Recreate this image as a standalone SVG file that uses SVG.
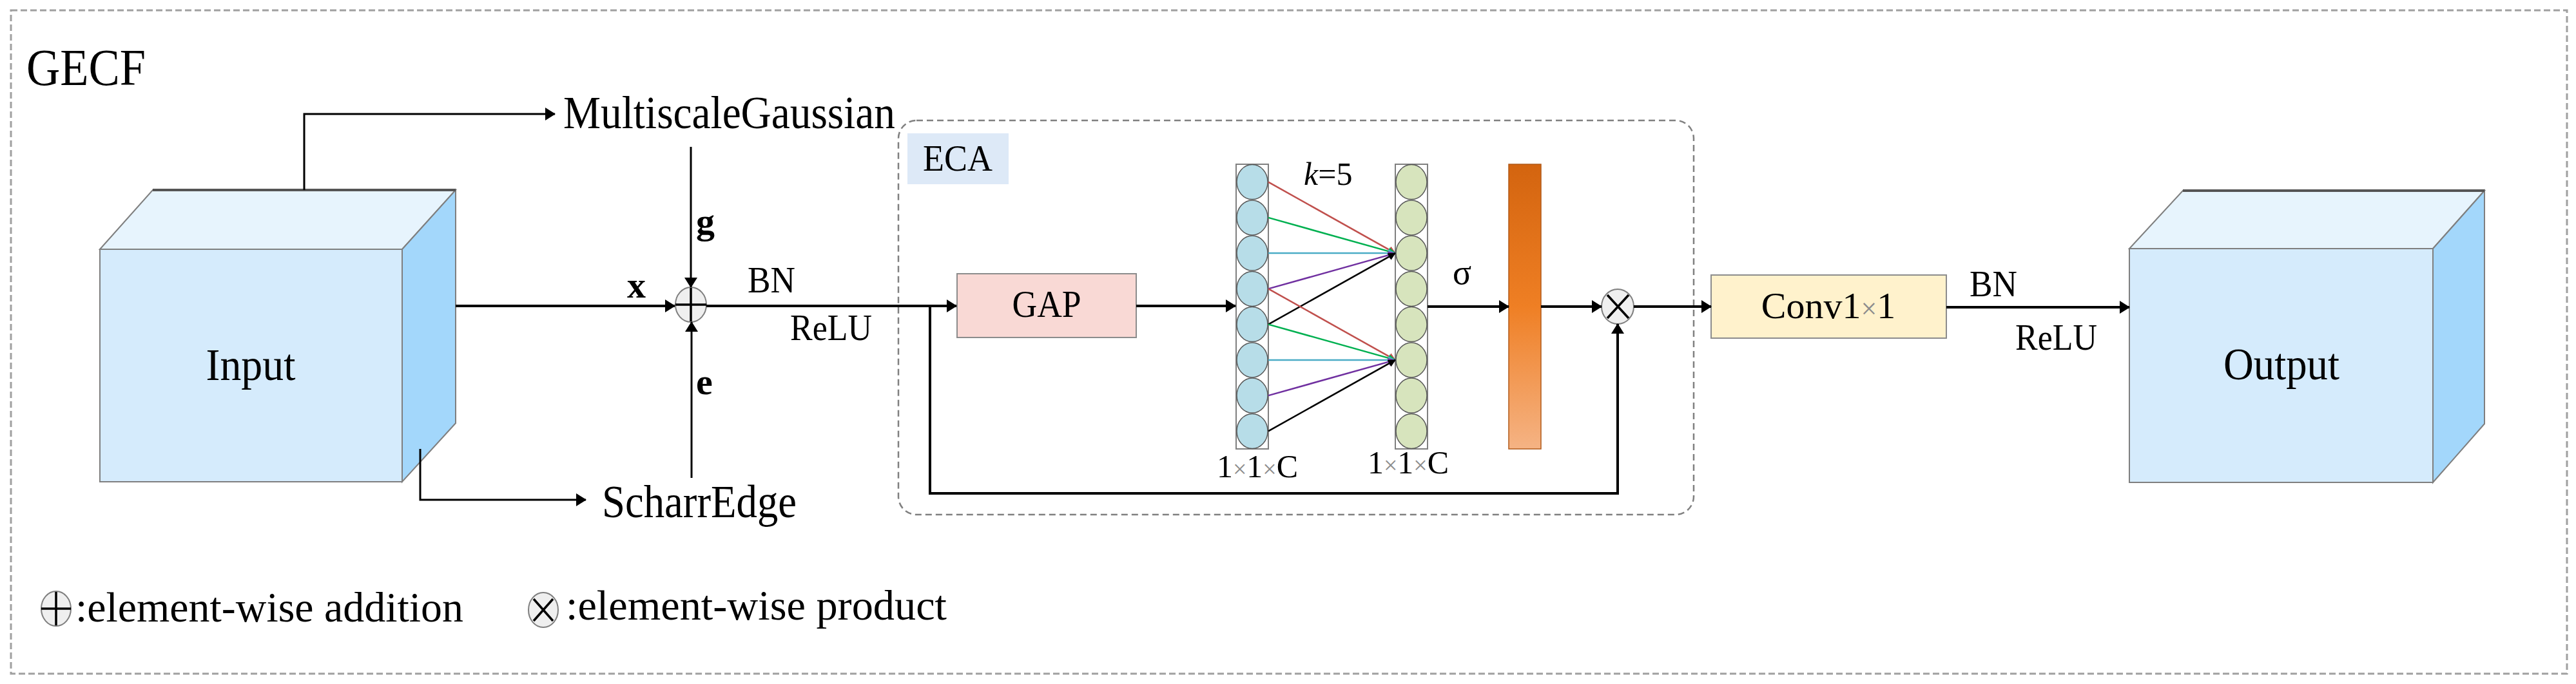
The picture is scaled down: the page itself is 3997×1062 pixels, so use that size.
<svg xmlns="http://www.w3.org/2000/svg" width="3997" height="1062" viewBox="0 0 3997 1062">
<style>
text{font-family:"Liberation Serif","Times New Roman",serif;fill:#000}
.ln{fill:none;stroke:#000;stroke-width:4}
.thin{fill:none;stroke:#000;stroke-width:3}
.front{fill:#d5ebfc;stroke:#7f7f7f;stroke-width:2}
.top{fill:#e7f4fd;stroke:#7f7f7f;stroke-width:2}
.side{fill:#a3d7fb;stroke:#7f7f7f;stroke-width:2}
.op{fill:#efefef;stroke:#7f7f7f;stroke-width:2}
.opl{stroke:#000;stroke-width:3.5;fill:none}
.col{fill:#fff;stroke:#7f7f7f;stroke-width:2}
.cb{fill:#b7dde8;stroke:#595959;stroke-width:1.5}
.cg{fill:#d7e4bd;stroke:#595959;stroke-width:1.5}
.gx{fill:#8c8c8c}
.k{stroke-width:2.5;fill:none}
</style>
<defs>
<marker id="ah" markerUnits="userSpaceOnUse" markerWidth="16" markerHeight="20" refX="15" refY="10" orient="auto"><path d="M0,0 L16,10 L0,20 z" fill="#000"/></marker>
<marker id="mr" markerUnits="userSpaceOnUse" markerWidth="12" markerHeight="12" refX="11" refY="6" orient="auto"><path d="M0,0 L12,6 L0,12 z" fill="#c0504d"/></marker>
<marker id="mg" markerUnits="userSpaceOnUse" markerWidth="12" markerHeight="12" refX="11" refY="6" orient="auto"><path d="M0,0 L12,6 L0,12 z" fill="#00b050"/></marker>
<marker id="mt" markerUnits="userSpaceOnUse" markerWidth="12" markerHeight="12" refX="11" refY="6" orient="auto"><path d="M0,0 L12,6 L0,12 z" fill="#4bacc6"/></marker>
<marker id="mp" markerUnits="userSpaceOnUse" markerWidth="12" markerHeight="12" refX="11" refY="6" orient="auto"><path d="M0,0 L12,6 L0,12 z" fill="#7030a0"/></marker>
<marker id="mk" markerUnits="userSpaceOnUse" markerWidth="12" markerHeight="12" refX="11" refY="6" orient="auto"><path d="M0,0 L12,6 L0,12 z" fill="#000"/></marker>
<linearGradient id="og" x1="0" y1="0" x2="0" y2="1">
<stop offset="0" stop-color="#d3640f"/>
<stop offset="0.5" stop-color="#ef7f24"/>
<stop offset="1" stop-color="#f5b384"/>
</linearGradient>
</defs>

<g id="frame">
<rect x="17" y="16" width="3966" height="1030" fill="#fff" stroke="#a0a0a0" stroke-width="3" stroke-dasharray="10 5"/>
<text x="41" y="132" font-size="80" textLength="185" lengthAdjust="spacingAndGlyphs">GECF</text>
</g>

<g id="eca-box">
<rect x="1394" y="187" width="1234" height="612" rx="28" fill="none" stroke="#808080" stroke-width="2.5" stroke-dasharray="10 6"/>
<rect x="1408" y="207" width="157" height="79" fill="#dde9f7"/>
<text x="1432" y="265" font-size="58" textLength="108" lengthAdjust="spacingAndGlyphs">ECA</text>
</g>

<g id="input">
<polygon class="top" points="155,387 237,295 707,295 624,387"/>
<polygon class="side" points="624,387 707,295 707,657 624,748"/>
<rect class="front" x="155" y="387" width="469" height="361"/>
<line x1="237" y1="295" x2="707" y2="295" stroke="#555" stroke-width="4"/>
<text x="389" y="590" font-size="70" text-anchor="middle" textLength="139" lengthAdjust="spacingAndGlyphs">Input</text>
</g>

<g id="output">
<polygon class="top" points="3304,386 3387,296 3855,296 3775,386"/>
<polygon class="side" points="3775,386 3855,296 3855,658 3775,749"/>
<rect class="front" x="3304" y="386" width="471" height="363"/>
<line x1="3387" y1="296" x2="3855" y2="296" stroke="#555" stroke-width="4"/>
<text x="3540" y="589" font-size="70" text-anchor="middle" textLength="180" lengthAdjust="spacingAndGlyphs">Output</text>
</g>

<g id="multiscale-gaussian">
<text x="874" y="199" font-size="72" textLength="515" lengthAdjust="spacingAndGlyphs">MultiscaleGaussian</text>
</g>

<g id="scharr-edge">
<text x="934" y="803" font-size="72" textLength="302" lengthAdjust="spacingAndGlyphs">ScharrEdge</text>
</g>

<g id="add">
<ellipse class="op" cx="1072" cy="473" rx="24" ry="27"/>
<path class="opl" d="M1072,447 V499 M1048,473 H1096"/>
</g>

<g id="gap">
<rect x="1485" y="425" width="278" height="99" fill="#f9d9d5" stroke="#8c8c8c" stroke-width="2"/>
<text x="1624" y="492" font-size="60" text-anchor="middle" textLength="107" lengthAdjust="spacingAndGlyphs">GAP</text>
</g>

<g id="col-in">
<rect class="col" x="1918" y="255" width="50" height="442"/>
<ellipse class="cb" cx="1943" cy="282.6" rx="24" ry="27"/>
<ellipse class="cb" cx="1943" cy="337.9" rx="24" ry="27"/>
<ellipse class="cb" cx="1943" cy="393.1" rx="24" ry="27"/>
<ellipse class="cb" cx="1943" cy="448.4" rx="24" ry="27"/>
<ellipse class="cb" cx="1943" cy="503.6" rx="24" ry="27"/>
<ellipse class="cb" cx="1943" cy="558.9" rx="24" ry="27"/>
<ellipse class="cb" cx="1943" cy="614.1" rx="24" ry="27"/>
<ellipse class="cb" cx="1943" cy="669.4" rx="24" ry="27"/>
<text x="1951" y="741" font-size="50" text-anchor="middle">1<tspan class="gx" font-size="38">×</tspan>1<tspan class="gx" font-size="38">×</tspan>C</text>
</g>

<g id="col-out">
<rect class="col" x="2165" y="255" width="50" height="442"/>
<ellipse class="cg" cx="2190" cy="282.6" rx="24" ry="27"/>
<ellipse class="cg" cx="2190" cy="337.9" rx="24" ry="27"/>
<ellipse class="cg" cx="2190" cy="393.1" rx="24" ry="27"/>
<ellipse class="cg" cx="2190" cy="448.4" rx="24" ry="27"/>
<ellipse class="cg" cx="2190" cy="503.6" rx="24" ry="27"/>
<ellipse class="cg" cx="2190" cy="558.9" rx="24" ry="27"/>
<ellipse class="cg" cx="2190" cy="614.1" rx="24" ry="27"/>
<ellipse class="cg" cx="2190" cy="669.4" rx="24" ry="27"/>
<text x="2185" y="735" font-size="50" text-anchor="middle">1<tspan class="gx" font-size="38">×</tspan>1<tspan class="gx" font-size="38">×</tspan>C</text>
</g>

<g id="sigmoid-bar">
<rect x="2341" y="255" width="50" height="442" fill="url(#og)" stroke="#b05a1a" stroke-width="1.5"/>
</g>

<g id="mul">
<ellipse class="op" cx="2510" cy="476" rx="25" ry="27"/>
<path class="opl" d="M2494,458 L2527,494 M2527,458 L2494,494"/>
</g>

<g id="conv">
<rect x="2655" y="427" width="365" height="98" fill="#fff2cc" stroke="#8c8c8c" stroke-width="2"/>
<text x="2837" y="494" font-size="58" text-anchor="middle">Conv1<tspan class="gx" font-size="44">×</tspan>1</text>
</g>

<g id="connectors">
<path class="thin" d="M472,295 V177 H861" marker-end="url(#ah)"/>
<path class="thin" d="M652,697 V776 H909" marker-end="url(#ah)"/>
<path class="ln" d="M707,475 H1047" marker-end="url(#ah)"/>
<path class="thin" d="M1072,228 V446" marker-end="url(#ah)"/>
<path class="thin" d="M1073,742 V500" marker-end="url(#ah)"/>
<path class="ln" d="M1096,475 H1484" marker-end="url(#ah)"/>
<path class="ln" d="M1443,475 V766 H2510 V503" marker-end="url(#ah)"/>
<path class="ln" d="M1763,475 H1917" marker-end="url(#ah)"/>
<path class="ln" d="M2215,476 H2341" marker-end="url(#ah)"/>
<path class="ln" d="M2391,476 H2485" marker-end="url(#ah)"/>
<path class="ln" d="M2535,476 H2655" marker-end="url(#ah)"/>
<path class="ln" d="M3020,477 H3304" marker-end="url(#ah)"/>
<path class="k" stroke="#c0504d" d="M1968,282.6 L2165,393.1" marker-end="url(#mr)"/>
<path class="k" stroke="#00b050" d="M1968,337.9 L2165,393.1" marker-end="url(#mg)"/>
<path class="k" stroke="#4bacc6" d="M1968,393.1 L2165,393.1" marker-end="url(#mt)"/>
<path class="k" stroke="#7030a0" d="M1968,448.4 L2165,393.1" marker-end="url(#mp)"/>
<path class="k" stroke="#000" d="M1968,503.6 L2165,393.1" marker-end="url(#mk)"/>
<path class="k" stroke="#c0504d" d="M1968,448.4 L2165,558.9" marker-end="url(#mr)"/>
<path class="k" stroke="#00b050" d="M1968,503.6 L2165,558.9" marker-end="url(#mg)"/>
<path class="k" stroke="#4bacc6" d="M1968,558.9 L2165,558.9" marker-end="url(#mt)"/>
<path class="k" stroke="#7030a0" d="M1968,614.1 L2165,558.9" marker-end="url(#mp)"/>
<path class="k" stroke="#000" d="M1968,669.4 L2165,558.9" marker-end="url(#mk)"/>
</g>

<g id="labels">
<text x="973" y="462" font-size="58" font-weight="bold">x</text>
<text x="1080" y="363" font-size="58" font-weight="bold">g</text>
<text x="1080" y="612" font-size="58" font-weight="bold">e</text>
<text x="1160" y="454" font-size="58" textLength="74" lengthAdjust="spacingAndGlyphs">BN</text>
<text x="1226" y="528" font-size="58" textLength="127" lengthAdjust="spacingAndGlyphs">ReLU</text>
<text x="2023" y="287" font-size="50"><tspan font-style="italic">k</tspan>=5</text>
<text x="2254" y="441" font-size="54">σ</text>
<text x="3056" y="460" font-size="58" textLength="74" lengthAdjust="spacingAndGlyphs">BN</text>
<text x="3127" y="543" font-size="58" textLength="127" lengthAdjust="spacingAndGlyphs">ReLU</text>
</g>

<g id="legend">
<ellipse class="op" cx="87" cy="945" rx="23" ry="27"/>
<path class="opl" d="M87,919 V971 M64,945 H110"/>
<text x="117" y="965" font-size="66" textLength="602" lengthAdjust="spacingAndGlyphs">:element-wise addition</text>
<ellipse class="op" cx="843" cy="947" rx="23" ry="27"/>
<path class="opl" d="M828,930 L858,964 M858,930 L828,964"/>
<text x="878" y="962" font-size="66" textLength="591" lengthAdjust="spacingAndGlyphs">:element-wise product</text>
</g>
</svg>
